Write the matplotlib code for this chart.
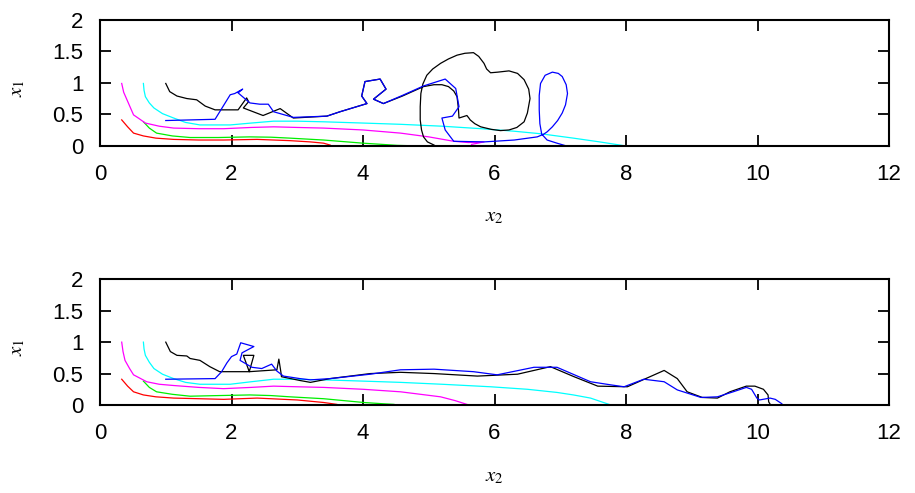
import numpy as np
import matplotlib
matplotlib.use('Agg')
import matplotlib.pyplot as plt

#########################################################################################
# Trajectories in the (x2, x1) plane, two runs...
#########################################################################################
# run 1 (upper panel)
red_x_1 = [0.33, 0.42, 0.51, 0.66, 0.85, 1.12, 1.5, 1.88, 2.39, 2.89, 3.2, 3.4, 3.5]
red_y_1 = [0.41, 0.30, 0.20, 0.155, 0.12, 0.10, 0.09, 0.09, 0.10, 0.08, 0.06, 0.04, 0.01]

green_x_1 = [0.66, 0.75, 0.86, 1.1, 1.37, 1.8, 2.28, 2.6, 2.89, 3.4, 4.0, 4.3, 4.52, 4.7]
green_y_1 = [0.38, 0.28, 0.20, 0.155, 0.13, 0.13, 0.14, 0.135, 0.12, 0.09, 0.04, 0.02, 0.005, 0.0]

magenta_x_1 = [0.33, 0.36, 0.41, 0.51, 0.69, 0.9, 1.12, 1.5, 1.88, 2.3, 2.64, 3.0, 3.4, 4.0,
               4.57, 5.0, 5.38, 5.6, 5.84, 5.65]
magenta_y_1 = [0.99, 0.85, 0.73, 0.49, 0.36, 0.31, 0.28, 0.27, 0.27, 0.29, 0.30, 0.29, 0.28, 0.25,
               0.20, 0.14, 0.07, 0.05, 0.06, 0.02]

cyan_x_1 = [0.66, 0.67, 0.69, 0.75, 0.82, 0.95, 1.12, 1.3, 1.52, 1.98, 2.3, 2.64, 3.0, 3.4, 4.0,
            4.57, 5.2, 5.8, 6.3, 6.7, 7.2, 7.6, 7.97]
cyan_y_1 = [0.99, 0.88, 0.78, 0.68, 0.60, 0.51, 0.44, 0.37, 0.33, 0.33, 0.36, 0.39, 0.39, 0.38, 0.36,
            0.34, 0.31, 0.27, 0.23, 0.19, 0.12, 0.06, 0.0]

black_x_1 = [1.0, 1.06, 1.17, 1.32, 1.47, 1.60, 1.75, 2.10, 2.23, 2.26, 2.18, 2.48, 2.74, 2.94, 3.45,
             3.65, 4.06, 3.98, 4.03, 4.26, 4.35, 4.16, 4.31, 4.6, 4.92, 5.08, 5.2, 5.30, 5.38, 5.43,
             5.45, 5.46, 5.58, 5.61, 5.63, 5.7, 5.79, 5.95, 6.09, 6.22, 6.34, 6.45, 6.5, 6.54, 6.52,
             6.45, 6.35, 6.22, 6.05, 5.94, 5.88, 5.84, 5.76, 5.68, 5.55, 5.43, 5.3, 5.18, 5.06, 4.97,
             4.91, 4.88, 4.87, 4.87, 4.89, 4.92, 4.98, 5.08]
black_y_1 = [0.99, 0.86, 0.79, 0.75, 0.73, 0.63, 0.57, 0.57, 0.76, 0.70, 0.60, 0.48, 0.59, 0.44, 0.47,
             0.54, 0.67, 0.79, 1.02, 1.06, 0.90, 0.74, 0.67, 0.79, 0.94, 0.97, 0.97, 0.94, 0.87, 0.78,
             0.60, 0.44, 0.48, 0.44, 0.41, 0.35, 0.30, 0.26, 0.24, 0.25, 0.29, 0.38, 0.52, 0.75, 0.90,
             1.05, 1.15, 1.19, 1.17, 1.16, 1.22, 1.31, 1.42, 1.48, 1.47, 1.44, 1.38, 1.31, 1.22, 1.12,
             0.98, 0.83, 0.62, 0.41, 0.25, 0.14, 0.06, 0.01]

blue_x_1 = [1.0, 1.75, 1.98, 2.05, 2.17, 2.10, 2.28, 2.43, 2.56, 2.64, 2.84, 2.94, 3.45, 3.65, 4.06,
            3.98, 4.03, 4.26, 4.35, 4.16, 4.31, 4.6, 4.92, 5.25, 5.41, 5.46, 5.36, 5.20, 5.25, 5.38,
            5.84, 6.3, 6.65, 6.72, 6.69, 6.68, 6.68, 6.70, 6.77, 6.88, 6.97, 7.03, 7.09, 7.11, 7.08,
            7.03, 6.96, 6.88, 6.80, 6.73, 6.80, 6.95, 7.08]
blue_y_1 = [0.40, 0.42, 0.81, 0.83, 0.90, 0.84, 0.68, 0.66, 0.66, 0.54, 0.48, 0.45, 0.47, 0.54, 0.67,
            0.79, 1.02, 1.06, 0.90, 0.74, 0.67, 0.80, 0.95, 1.06, 0.91, 0.62, 0.47, 0.44, 0.25, 0.07,
            0.06, 0.09, 0.14, 0.17, 0.35, 0.57, 0.80, 0.99, 1.12, 1.17, 1.15, 1.10, 0.97, 0.83, 0.65,
            0.52, 0.40, 0.30, 0.22, 0.17, 0.09, 0.04, 0.0]

# run 2 (lower panel)
red_x_2 = [0.33, 0.42, 0.51, 0.66, 0.85, 1.12, 1.5, 1.88, 2.39, 3.0, 3.4, 3.6]
red_y_2 = [0.41, 0.30, 0.21, 0.16, 0.13, 0.11, 0.10, 0.09, 0.11, 0.08, 0.04, 0.01]

green_x_2 = [0.66, 0.75, 0.86, 1.1, 1.37, 1.8, 2.28, 2.6, 2.89, 3.4, 4.01, 4.3, 4.47]
green_y_2 = [0.38, 0.28, 0.21, 0.17, 0.14, 0.15, 0.16, 0.15, 0.13, 0.10, 0.04, 0.02, 0.01]

magenta_x_2 = [0.33, 0.35, 0.38, 0.45, 0.51, 0.71, 0.9, 1.12, 1.5, 1.88, 2.3, 2.64, 3.0, 3.4, 4.0,
               4.57, 5.18, 5.4, 5.58]
magenta_y_2 = [1.0, 0.85, 0.71, 0.58, 0.48, 0.37, 0.33, 0.31, 0.28, 0.26, 0.28, 0.30, 0.29, 0.28, 0.25,
               0.21, 0.13, 0.07, 0.01]

cyan_x_2 = [0.66, 0.67, 0.69, 0.75, 0.82, 0.95, 1.12, 1.3, 1.52, 1.98, 2.3, 2.64, 3.0, 3.4, 4.0,
            4.57, 5.2, 5.94, 6.5, 6.95, 7.2, 7.46, 7.77]
cyan_y_2 = [1.0, 0.89, 0.79, 0.68, 0.58, 0.49, 0.42, 0.36, 0.33, 0.33, 0.37, 0.41, 0.41, 0.40, 0.38,
            0.36, 0.33, 0.29, 0.25, 0.20, 0.16, 0.11, 0.0]

black_x_2 = [1.0, 1.07, 1.17, 1.32, 1.37, 1.52, 1.67, 1.82, 2.27, 2.18, 2.34, 2.27, 2.69, 2.72, 2.75,
             2.76, 3.04, 3.2, 3.5, 4.11, 4.57, 5.08, 5.74, 6.35, 6.85, 7.21, 7.57, 8.02, 8.58, 8.78,
             8.93, 9.16, 9.39, 9.58, 9.83, 9.96, 10.09, 10.16, 10.17, 10.2]
black_y_2 = [1.0, 0.85, 0.79, 0.78, 0.74, 0.71, 0.61, 0.53, 0.53, 0.79, 0.79, 0.53, 0.56, 0.73, 0.53,
             0.45, 0.39, 0.36, 0.42, 0.50, 0.52, 0.50, 0.46, 0.49, 0.61, 0.45, 0.30, 0.29, 0.55, 0.42,
             0.21, 0.12, 0.11, 0.21, 0.30, 0.30, 0.25, 0.16, 0.05, 0.0]

blue_x_2 = [1.0, 1.75, 1.85, 1.93, 2.0, 2.08, 2.14, 2.34, 2.16, 2.13, 2.31, 2.46, 2.61, 2.69, 2.79,
            3.04, 3.2, 3.5, 4.11, 4.57, 5.08, 5.68, 6.04, 6.6, 6.95, 7.46, 7.77, 7.97, 8.27, 8.58,
            8.78, 9.14, 9.39, 9.63, 9.83, 9.91, 9.99, 10.03, 10.19, 10.27, 10.37]
blue_y_2 = [0.41, 0.42, 0.53, 0.67, 0.77, 0.81, 0.99, 0.93, 0.83, 0.71, 0.60, 0.58, 0.65, 0.54, 0.46,
            0.42, 0.40, 0.42, 0.49, 0.56, 0.57, 0.53, 0.48, 0.60, 0.60, 0.37, 0.32, 0.29, 0.41, 0.37,
            0.24, 0.12, 0.13, 0.21, 0.28, 0.25, 0.11, 0.08, 0.11, 0.09, 0.02]

x_ticks = [0, 2, 4, 6, 8, 10, 12]
y_ticks = [0, 0.5, 1, 1.5, 2]
y_tick_labels = ['0', '0.5', '1', '1.5', '2']
#########################################################################################

#########################################################################################
# Plot...
#########################################################################################
plt.rcParams['font.family'] = ['Liberation Sans', 'DejaVu Sans']
plt.rcParams['mathtext.fontset'] = 'stix'

runs = [
    [(red_x_1, red_y_1, 'red'), (green_x_1, green_y_1, '#00ee00'),
     (magenta_x_1, magenta_y_1, 'magenta'), (cyan_x_1, cyan_y_1, 'cyan'),
     (black_x_1, black_y_1, 'black'), (blue_x_1, blue_y_1, 'blue')],
    [(red_x_2, red_y_2, 'red'), (green_x_2, green_y_2, '#00ee00'),
     (magenta_x_2, magenta_y_2, 'magenta'), (cyan_x_2, cyan_y_2, 'cyan'),
     (black_x_2, black_y_2, 'black'), (blue_x_2, blue_y_2, 'blue')],
]

fig = plt.figure(figsize=(9.15, 4.93), dpi=100)
ax_top = fig.add_axes([0.1093, 0.7045, 0.8623, 0.2550])
ax_bot = fig.add_axes([0.1093, 0.1785, 0.8623, 0.2550])

for ax, curves in zip([ax_top, ax_bot], runs):
    for xs, ys, color in curves:
        ax.plot(xs, ys, color=color, lw=0.9)
    ax.set_xlim(0, 12)
    ax.set_ylim(0, 2)
    ax.set_xticks(x_ticks)
    ax.set_yticks(y_ticks)
    ax.set_yticklabels(y_tick_labels)
    ax.tick_params(direction='in', length=8, width=1.3, top=True, right=True, labelsize=16)
    ax.tick_params(axis='y', pad=12)
    ax.tick_params(axis='x', pad=13)
    for spine in ax.spines.values():
        spine.set_linewidth(1.5)
    ax.set_xlabel(r'$x_2$', fontsize=15)
    ax.set_ylabel(r'$x_1$', fontsize=15)
    ax.xaxis.set_label_coords(0.5, -0.49)
    ax.yaxis.set_label_coords(-0.093, 0.46)

fig.savefig('out.png', dpi=100)
